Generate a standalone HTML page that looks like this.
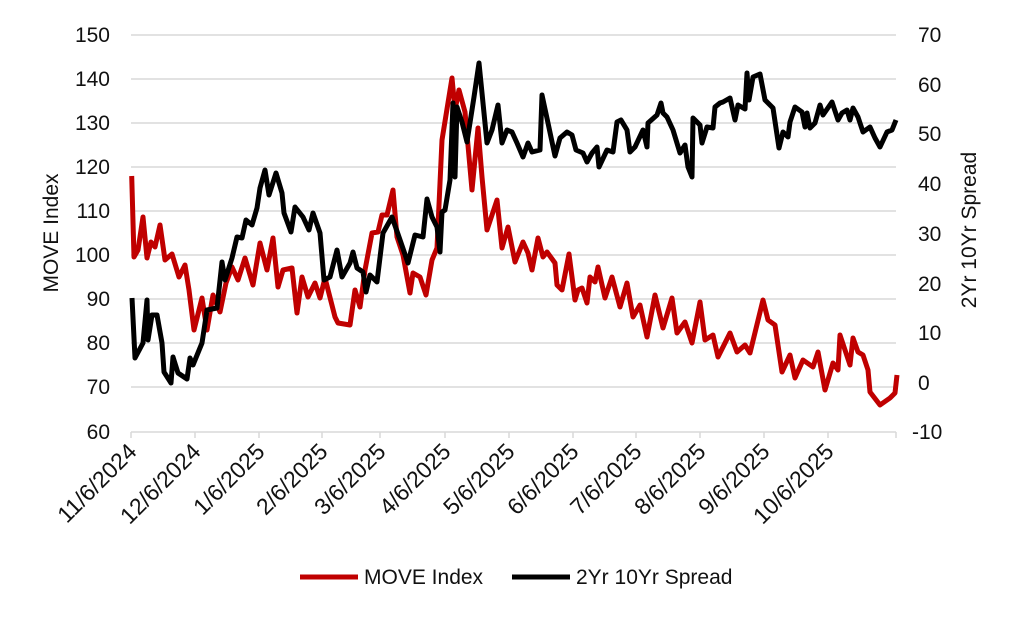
<!DOCTYPE html>
<html><head><style>body{margin:0;background:#fff}svg text{font-family:"Liberation Sans",sans-serif;fill:#111}</style></head><body>
<svg width="1024" height="613" viewBox="0 0 1024 613" xmlns="http://www.w3.org/2000/svg">
<g stroke="#d9d9d9" stroke-width="1.5">
<line x1="131" x2="896" y1="35" y2="35"/><line x1="131" x2="896" y1="79" y2="79"/><line x1="131" x2="896" y1="123" y2="123"/><line x1="131" x2="896" y1="167" y2="167"/><line x1="131" x2="896" y1="211" y2="211"/><line x1="131" x2="896" y1="255" y2="255"/><line x1="131" x2="896" y1="299" y2="299"/><line x1="131" x2="896" y1="343" y2="343"/><line x1="131" x2="896" y1="387" y2="387"/>
<line x1="131" x2="896" y1="432" y2="432"/>
<line x1="131" x2="131" y1="432" y2="438"/><line x1="195" x2="195" y1="432" y2="438"/><line x1="259" x2="259" y1="432" y2="438"/><line x1="322" x2="322" y1="432" y2="438"/><line x1="380" x2="380" y1="432" y2="438"/><line x1="445" x2="445" y1="432" y2="438"/><line x1="509" x2="509" y1="432" y2="438"/><line x1="573" x2="573" y1="432" y2="438"/><line x1="636" x2="636" y1="432" y2="438"/><line x1="700" x2="700" y1="432" y2="438"/><line x1="764" x2="764" y1="432" y2="438"/><line x1="828" x2="828" y1="432" y2="438"/><line x1="896" x2="896" y1="432" y2="438"/>
</g>
<g font-size="21" text-anchor="end">
<text x="110" y="42">150</text><text x="110" y="86">140</text><text x="110" y="130">130</text><text x="110" y="174">120</text><text x="110" y="218">110</text><text x="110" y="262">100</text><text x="110" y="306">90</text><text x="110" y="350">80</text><text x="110" y="394">70</text><text x="110" y="439">60</text>
</g>
<g font-size="21" text-anchor="start">
<text x="918" y="42">70</text><text x="918" y="92">60</text><text x="918" y="141">50</text><text x="918" y="191">40</text><text x="918" y="241">30</text><text x="918" y="291">20</text><text x="918" y="340">10</text><text x="918" y="390">0</text><text x="912" y="439">-10</text>
</g>
<text font-size="21" transform="translate(58,233) rotate(-90)" text-anchor="middle">MOVE Index</text>
<text font-size="21" transform="translate(976,230) rotate(-90)" text-anchor="middle">2Yr 10Yr Spread</text>
<g font-size="23" text-anchor="end">
<text transform="translate(138,453) rotate(-45)">11/6/2024</text>
<text transform="translate(202,453) rotate(-45)">12/6/2024</text>
<text transform="translate(266,453) rotate(-45)">1/6/2025</text>
<text transform="translate(329,453) rotate(-45)">2/6/2025</text>
<text transform="translate(387,453) rotate(-45)">3/6/2025</text>
<text transform="translate(452,453) rotate(-45)">4/6/2025</text>
<text transform="translate(516,453) rotate(-45)">5/6/2025</text>
<text transform="translate(580,453) rotate(-45)">6/6/2025</text>
<text transform="translate(643,453) rotate(-45)">7/6/2025</text>
<text transform="translate(707,453) rotate(-45)">8/6/2025</text>
<text transform="translate(771,453) rotate(-45)">9/6/2025</text>
<text transform="translate(835,453) rotate(-45)">10/6/2025</text>
</g>
<g fill="none" stroke-width="5" stroke-linejoin="round">
<polyline stroke="#c00000" points="131.7,176 134,257 138,250 143,217 147,258 151,242 155,247 160,225 165,260 172,254 179,277 185,265 189,290 194,330 202,298 207,330 213,295 220,312 226,283 232,267 238,280 245,258 253,285 260,243 267,270 273,238 278,287 283,270 292,268 297,313 302,277 308,297 315,283 320,298 325,278 335,317 338,323 350,325 355,290 360,307 365,270 372,233 378,232 382,215 387,215 393,190 397,237 403,255 410,293 413,273 420,277 426,295 432,260 437,248 442,140 452,78 455,110 459,90 465,112 472,190 478,128 482,177 487,230 497,200 502,248 508,227 515,262 523,242 528,253 532,270 538,238 543,257 547,252 555,263 557,285 562,290 569,254 575,300 578,290 582,288 587,303 590,277 595,282 598,267 605,298 612,277 620,307 627,283 633,317 640,305 647,337 655,295 663,328 672,298 677,333 685,322 692,343 700,302 705,340 713,335 718,357 730,333 737,352 745,345 750,353 763,300 768,320 775,325 782,372 790,355 795,378 803,360 813,367 818,352 825,390 833,363 838,370 840,335 850,365 853,338 858,352 863,355 868,370 870,392 880,405 890,398 895,393 897,375"/>
<polyline stroke="#000" points="132,298 135,358 143,343 147,300 148,340 152,315 157,315 162,343 164,372 171,383 173,357 178,373 187,379 190,358 193,365 202,343 207,310 217,308 222,262 225,280 232,258 237,237 242,238 246,220 252,225 257,208 260,188 265,170 269,195 276,173 282,193 284,213 291,232 295,207 303,217 309,230 313,213 320,233 324,280 330,277 337,250 342,277 350,263 353,252 357,268 363,272 366,292 370,275 377,282 383,233 392,217 399,237 408,263 415,235 423,237 427,199 432,217 437,227 440,252 442,212 445,210 450,180 453,103 455,177 457,107 462,122 467,142 474,97 479,63 487,143 492,130 498,105 502,143 507,130 512,132 517,143 523,157 528,143 532,152 540,150 542,95 548,123 555,156 560,138 567,132 572,135 576,150 583,153 587,162 592,153 597,147 599,167 607,150 613,152 617,122 621,120 627,130 630,152 635,147 643,130 647,147 648,123 657,115 661,103 663,113 667,117 673,130 680,153 685,145 688,167 692,177 693,118 700,125 702,143 707,127 713,128 715,107 720,103 723,102 730,98 735,120 738,105 745,109 747,73 749,100 753,77 760,74 765,100 773,108 779,148 783,132 788,137 790,122 795,107 802,112 805,127 807,113 810,128 815,123 820,105 823,115 832,102 838,120 842,113 847,110 850,120 853,108 858,117 863,132 870,127 875,138 880,147 887,132 892,130 896,120"/>
</g>
<line x1="300" x2="358" y1="577" y2="577" stroke="#c00000" stroke-width="5"/>
<text x="364" y="584" font-size="21">MOVE Index</text>
<line x1="512" x2="570" y1="577" y2="577" stroke="#000" stroke-width="5"/>
<text x="576" y="584" font-size="21">2Yr 10Yr Spread</text>
</svg>
</body></html>
